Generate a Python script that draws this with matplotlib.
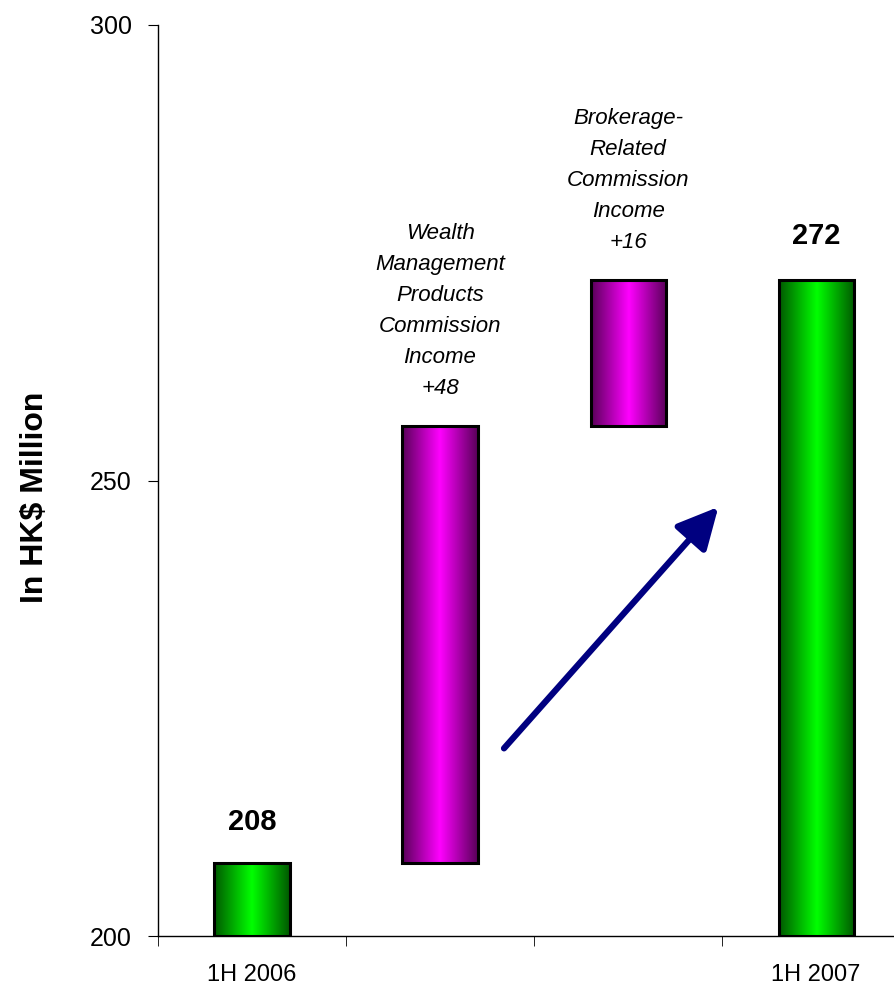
import numpy as np
import matplotlib.pyplot as plt
from matplotlib.colors import LinearSegmentedColormap

plt.rcParams['font.family'] = ['Liberation Sans', 'DejaVu Sans']

# waterfall data
categories = ["1H 2006", "", "", "1H 2007"]
start_value = 208
increments = [48, 16]
end_value = 272
step_labels = ["Wealth\nManagement\nProducts\nCommission\nIncome\n+48",
               "Brokerage-\nRelated\nCommission\nIncome\n+16"]

bottoms = [200, start_value, start_value + increments[0], 200]
heights = [start_value - 200, increments[0], increments[1], end_value - 200]
kinds = ["total", "step", "step", "total"]

greens = LinearSegmentedColormap.from_list("g", ["#005800", "#00ff00", "#005800"])
pinks = LinearSegmentedColormap.from_list("m", ["#580058", "#ff00ff", "#580058"])

fig = plt.figure(figsize=(8.95, 9.88), dpi=100)
ax = fig.add_axes([0.1765, 0.0526, 0.8405, 0.9221])

x = np.arange(len(categories))
bars = ax.bar(x, heights, bottom=bottoms, width=0.4, facecolor='none',
              edgecolor='black', linewidth=2.2, zorder=3)

grad = np.linspace(0, 1, 256).reshape(1, -1)
for bar, kind in zip(bars, kinds):
    cmap = greens if kind == "total" else pinks
    x0, y0 = bar.get_x(), bar.get_y()
    im = ax.imshow(grad, cmap=cmap, aspect='auto', zorder=2,
                   extent=[x0, x0 + bar.get_width(), y0, y0 + bar.get_height()])
    im.set_clip_path(bar)

ax.set_xlim(-0.5, 3.5)
ax.set_ylim(200, 300)
ax.set_yticks([200, 250, 300])
ax.set_xticks(x)
ax.set_xticklabels(categories)
ax.set_xticks(np.arange(-0.5, 4.0, 1.0), minor=True)
ax.tick_params(axis='x', which='major', length=0, labelsize=17, pad=20)
ax.tick_params(axis='x', which='minor', length=7, direction='out')
ax.tick_params(axis='y', labelsize=18, length=7, direction='out', pad=12)

for s in ['top', 'right']:
    ax.spines[s].set_visible(False)
ax.spines['left'].set_linewidth(1.0)
ax.spines['bottom'].set_linewidth(1.0)

ax.set_ylabel("In HK$ Million", fontsize=23, fontweight='bold')
ax.yaxis.set_label_coords(-0.143, 0.482)

# total labels
ax.text(x[0], start_value + 3, str(start_value), ha='center', va='bottom',
        fontsize=21, fontweight='bold')
ax.text(x[3], end_value + 3.3, str(end_value), ha='center', va='bottom',
        fontsize=21, fontweight='bold')

# step labels
for i, lab in zip([1, 2], step_labels):
    top = bottoms[i] + heights[i]
    ax.text(x[i], top + 3, lab, ha='center', va='bottom', fontsize=16,
            style='italic', linespacing=1.62)

# trend arrow
ax.annotate("", xy=(2.48, 247.1), xytext=(1.34, 220.6),
            arrowprops=dict(arrowstyle='-|>,head_length=2.5,head_width=1.25',
                            color='#000080', lw=4.5, shrinkA=0, shrinkB=0),
            zorder=4)

fig.savefig("out.png", dpi=100)
